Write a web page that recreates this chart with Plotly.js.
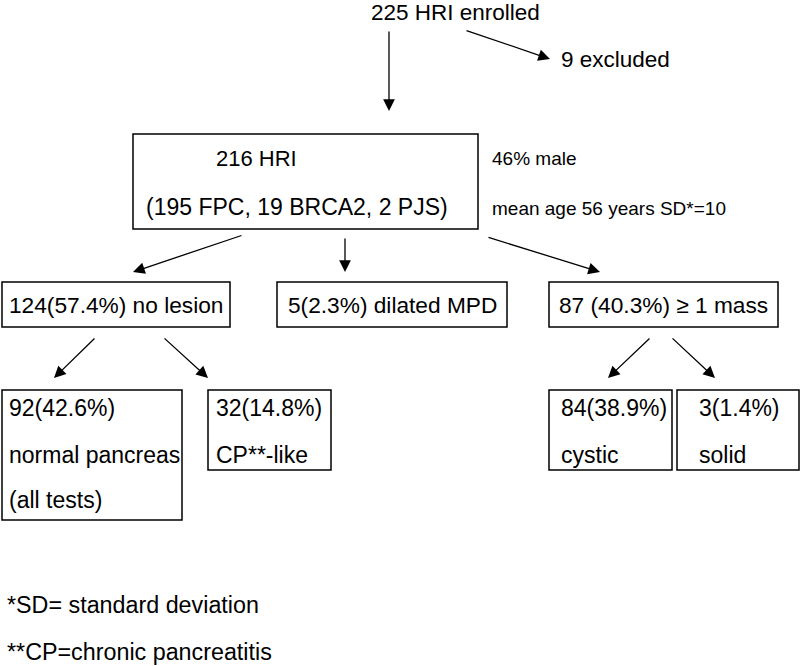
<!DOCTYPE html>
<html>
<head>
<meta charset="utf-8">
<script src="https://cdn.plot.ly/plotly-3.0.1.min.js"></script>
<style>
  html, body { margin: 0; padding: 0; background: #fff; }
  #chart { width: 800px; height: 666px; }
</style>
</head>
<body>
<div id="chart"></div>
<script>
// Flow of high-risk individuals (HRI) through screening
const enrolled = 225;
const excluded = 9;
const included = 216;
const subgroupCounts = { FPC: 195, BRCA2: 19, PJS: 2 };
const malePct = 46;
const meanAge = 56, ageSD = 10;

const level1Labels = ["no lesion", "dilated MPD", "≥ 1 mass"];
const level1Counts = [124, 5, 87];
const level1Pcts = [57.4, 2.3, 40.3];

const level2Labels = [["normal pancreas", "(all tests)"], ["CP**-like"], ["cystic"], ["solid"]];
const level2Counts = [92, 32, 84, 3];
const level2Pcts = [42.6, 14.8, 38.9, 1.4];

const footnotes = ["*SD= standard deviation", "**CP=chronic pancreatitis"];

// ---- layout geometry (pixel space, y downwards) ----
const FONT = "Liberation Sans, Arial, sans-serif";
const mainBox = [133, 134, 478, 229];
const l1Boxes = [[2, 282, 230, 327], [277, 282, 507, 327], [549, 282, 778, 327]];
const l2Boxes = [[2, 390, 182, 520], [208, 390, 331, 470], [549, 390, 672, 470], [677, 390, 799, 470]];
const l2TextX = [7, 214, 559, 697];
const arrows = [
  [389, 30, 389, 111], [465, 30, 550, 59],
  [243, 235, 133, 272], [345, 237, 345, 272], [487, 237, 600, 272],
  [96, 337, 54, 378], [163, 337, 208, 378],
  [651, 337, 608, 378], [671, 337, 715, 378]
];

const shapes = [];
const rect = (b) => shapes.push({
  type: "rect", xref: "x", yref: "y",
  x0: b[0], y0: b[1], x1: b[2], y1: b[3],
  line: { color: "#000", width: 1.5 }, fillcolor: "rgba(0,0,0,0)"
});
rect(mainBox);
l1Boxes.forEach(rect);
l2Boxes.forEach(rect);

const ann = [];
const txt = (text, x, y, size, anchor) => ann.push({
  text, x, y, xref: "x", yref: "y", showarrow: false,
  xanchor: anchor || "left", yanchor: "middle",
  font: { family: FONT, size: size || 23, color: "#000" }
});

txt(`${enrolled} HRI enrolled`, 369, 12, 22.5);
txt(`${excluded} excluded`, 559, 59, 22.5);
txt(`${included} HRI`, 214, 158, 22);
const sg = Object.entries(subgroupCounts).map(([k, v]) => `${v} ${k}`).join(", ");
txt(`(${sg})`, 144, 207);
txt(`${malePct}% male`, 490, 158, 19);
txt(`mean age ${meanAge} years SD*=${ageSD}`, 490, 208, 19);

level1Labels.forEach((lab, i) => {
  const b = l1Boxes[i];
  const sep = i === 2 ? " " : "";
  txt(`${level1Counts[i]}${sep}(${level1Pcts[i]}%) ${lab}`, (b[0] + b[2]) / 2, 305, 22.7, "center");
});

level2Labels.forEach((lines, i) => {
  const x = l2TextX[i];
  txt(`${level2Counts[i]}(${level2Pcts[i]}%)`, x, 408);
  lines.forEach((ln, j) => txt(ln, x, 455 + 45 * j));
});

footnotes.forEach((f, i) => txt(f, 5, 605 + 47 * i, 23.3));

arrows.forEach(a => ann.push({
  text: "", x: a[2], y: a[3], ax: a[0], ay: a[1],
  xref: "x", yref: "y", axref: "x", ayref: "y",
  showarrow: true, arrowhead: 2, arrowsize: 1.8, arrowwidth: 1.3, arrowcolor: "#000",
  standoff: 0, startstandoff: 0
}));

Plotly.newPlot("chart", [], {
  width: 800, height: 666,
  margin: { l: 0, r: 0, t: 0, b: 0 },
  paper_bgcolor: "#fff", plot_bgcolor: "#fff",
  xaxis: { range: [0, 800], visible: false, fixedrange: true },
  yaxis: { range: [666, 0], visible: false, fixedrange: true },
  showlegend: false,
  shapes, annotations: ann
}, { staticPlot: true, displayModeBar: false });
</script>
</body>
</html>
